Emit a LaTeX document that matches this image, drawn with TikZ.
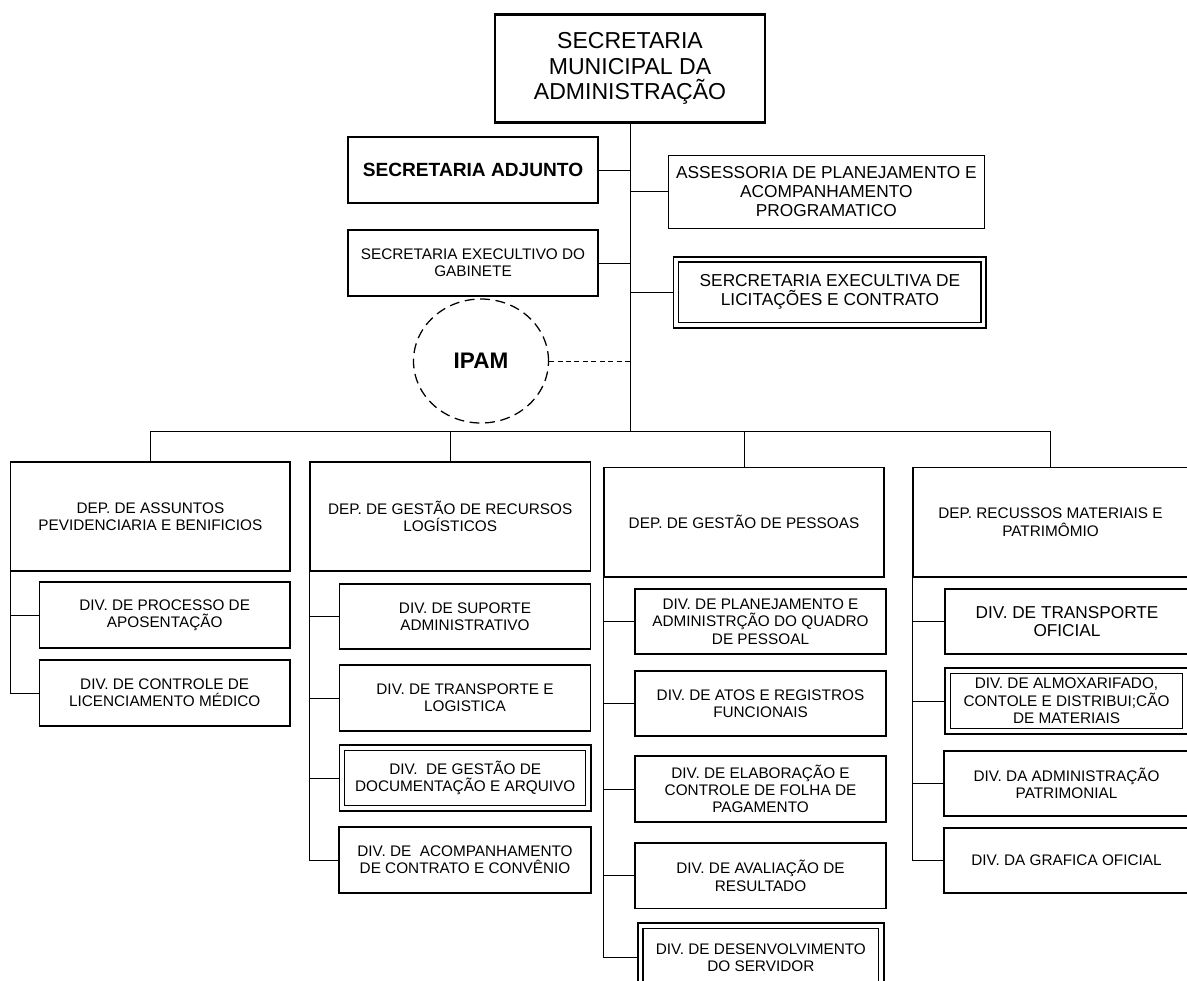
\documentclass[tikz,border=0pt]{standalone}
\usepackage{fontspec}
\setmainfont{Liberation Sans}
\usetikzlibrary{shapes.geometric}

\tikzset{
	box/.style={draw, line width=0.9pt, inner sep=0pt, align=center, font=\fontsize{10.9}{12.3}\selectfont},
	dbox/.style={box, line width=1.2pt},
	innerline/.style={line width=0.8pt},
	sz/.style 2 args={minimum width=#1*0.025cm, minimum height=#2*0.025cm},
	conn/.style={line width=0.6pt},
	mid/.style={font=\fontsize{12.3}{13.5}\selectfont}
}

\begin{document}
\begin{tikzpicture}[x=0.025cm, y=-0.025cm]
			%\draw[help lines, step=50] (0,0) grid (1187,980);
			\clip (0,0) rectangle (1187,980);

			\node[box, sz={270}{108}, line width=1.5pt, font=\fontsize{16.4}{18.4}\selectfont] (top) at (630,68.5) {SECRETARIA\\MUNICIPAL DA\\ADMINISTRAÇÃO};

			\node[box, sz={250}{66}, font=\bfseries\fontsize{13.6}{16}\selectfont] (adj) at (473,170) {SECRETARIA ADJUNTO};
			\node[box, sz={250}{66}, font=\fontsize{10.9}{11.9}\selectfont] (gab) at (473,263) {SECRETARIA EXECULTIVO DO\\GABINETE};
			\node[box, mid, sz={316}{73}] (ases) at (826.3,191.7) {ASSESSORIA DE PLANEJAMENTO E\\ACOMPANHAMENTO\\PROGRAMATICO};
			\node[dbox, mid, sz={312.8}{71}] (lic) at (829.9,292.2) {SERCRETARIA EXECULTIVA DE\\LICITAÇÕES E CONTRATO};
			\node[draw, ellipse, dash pattern=on 7pt off 4pt, line width=0.9pt, inner sep=0pt, sz={135}{124}, font=\bfseries\fontsize{16}{18}\selectfont] (ipam) at (481,361) {IPAM};

			\coordinate (bus) at (630,431.7);
			\draw[conn] (top.south) -- (bus);
			\draw[conn] (adj.east) -- (adj.east -| top.south);
			\draw[conn] (gab.east) -- (gab.east -| top.south);
			\draw[conn] (ases.west) -- (ases.west -| top.south);
			\draw[conn] (lic.west) -- (lic.west -| top.south);
			\draw[conn, dash pattern=on 3.5pt off 2.5pt] (ipam.east) -- (ipam.east -| top.south);

			% departamentos
			\node[box, sz={279.3}{109}] (dep1) at (150.4,516.5) {DEP. DE ASSUNTOS\\PEVIDENCIARIA E BENIFICIOS};
			\node[box, sz={280.5}{109}] (dep2) at (450.2,516.5) {DEP. DE GESTÃO DE RECURSOS\\LOGÍSTICOS};
			\node[box, sz={280}{109.5}] (dep3) at (744,522.3) {DEP. DE GESTÃO DE PESSOAS};
			\node[box, sz={275}{109.5}] (dep4) at (1050.5,522.3) {DEP. RECUSSOS MATERIAIS E\\PATRIMÔMIO};

			\draw[conn] (dep1.north |- bus) -- (dep4.north |- bus);
			\foreach \d in {dep1,dep2,dep3,dep4}
				\draw[conn] (\d.north) -- (\d.north |- bus);

			% divisoes
			\node[box, sz={250.6}{66}] (d11) at (164.7,615) {DIV. DE PROCESSO DE\\APOSENTAÇÃO};
			\node[box, sz={250.6}{66}] (d12) at (164.7,693) {DIV. DE CONTROLE DE\\LICENCIAMENTO MÉDICO};

			\node[box, sz={251}{65}] (d21) at (465,616.5) {DIV. DE SUPORTE\\ADMINISTRATIVO};
			\node[box, sz={251}{66}] (d22) at (465,698) {DIV. DE TRANSPORTE E\\LOGISTICA};
			\node[dbox, sz={251.6}{66}] (d23) at (465.2,778) {DIV.~ DE GESTÃO DE\\DOCUMENTAÇÃO E ARQUIVO};
			\node[box, sz={252}{66}] (d24) at (465,860) {DIV. DE~ ACOMPANHAMENTO\\DE CONTRATO E CONVÊNIO};

			\node[box, sz={251}{65}] (d31) at (760.5,621.5) {DIV. DE PLANEJAMENTO E\\ADMINISTRÇÃO DO QUADRO\\DE PESSOAL};
			\node[box, sz={251}{65}] (d32) at (760.5,703.5) {DIV. DE ATOS E REGISTROS\\FUNCIONAIS};
			\node[box, sz={251}{66}] (d33) at (760.5,789) {DIV. DE ELABORAÇÃO E\\CONTROLE DE FOLHA DE\\PAGAMENTO};
			\node[box, sz={251}{65.5}] (d34) at (760.5,875.8) {DIV. DE AVALIAÇÃO DE\\RESULTADO};
			\node[dbox, sz={246.3}{69}] (d35) at (760.8,957.5) {DIV. DE DESENVOLVIMENTO\\DO SERVIDOR};

			\node[box, sz={244}{65}, font=\fontsize{12.25}{13.3}\selectfont] (d41) at (1067,621.5) {DIV. DE TRANSPORTE\\OFICIAL};
			\node[dbox, sz={243}{66}] (d42) at (1066.5,701) {DIV. DE ALMOXARIFADO,\\CONTOLE E DISTRIBUI;CÃO\\DE MATERIAIS};
			\node[box, sz={245}{65}] (d43) at (1066.5,783.5) {DIV. DA ADMINISTRAÇÃO\\PATRIMONIAL};
			\node[box, sz={245}{65}] (d44) at (1066.5,860.5) {DIV. DA GRAFICA OFICIAL};

			% moldura interna das caixas duplas
			\foreach \d in {lic,d23,d35,d42}
				\draw[innerline] ([shift={(4.4pt,-4.4pt)}]\d.north west) rectangle ([shift={(-4.4pt,4.4pt)}]\d.south east);

			\draw[conn] (dep1.south west) -- (d12.west -| dep1.west);
			\foreach \d in {d11,d12}
				\draw[conn] (\d.west) -- (\d.west -| dep1.west);
			\draw[conn] (dep2.south west) -- (d24.west -| dep2.west);
			\foreach \d in {d21,d22,d23,d24}
				\draw[conn] (\d.west) -- (\d.west -| dep2.west);
			\draw[conn] (dep3.south west) -- (d35.west -| dep3.west);
			\foreach \d in {d31,d32,d33,d34,d35}
				\draw[conn] (\d.west) -- (\d.west -| dep3.west);
			\draw[conn] (dep4.south west) -- (d44.west -| dep4.west);
			\foreach \d in {d41,d42,d43,d44}
				\draw[conn] (\d.west) -- (\d.west -| dep4.west);
		\end{tikzpicture}
\end{document}
